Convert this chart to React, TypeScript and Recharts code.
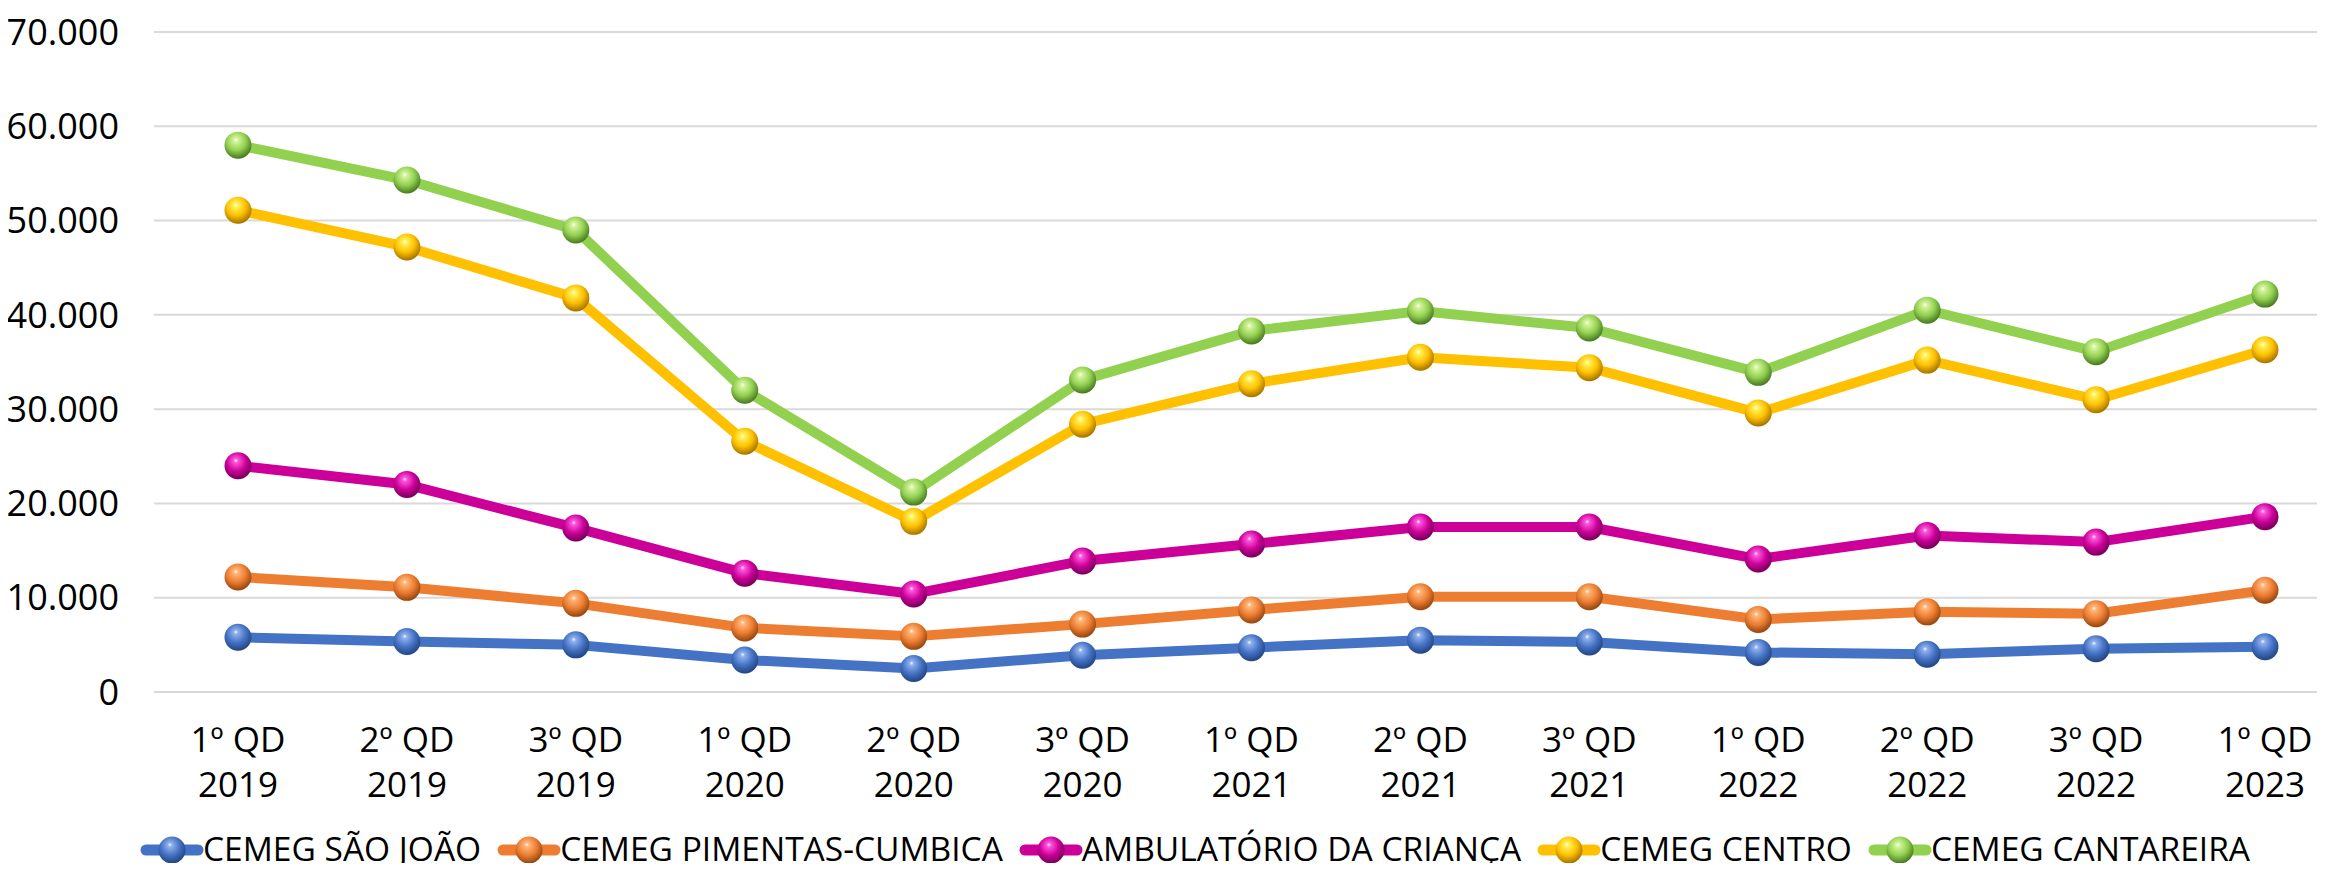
import { CartesianGrid, Line, LineChart, XAxis, YAxis } from "recharts";

const categories = [
  "1º QD 2019",
  "2º QD 2019",
  "3º QD 2019",
  "1º QD 2020",
  "2º QD 2020",
  "3º QD 2020",
  "1º QD 2021",
  "2º QD 2021",
  "3º QD 2021",
  "1º QD 2022",
  "2º QD 2022",
  "3º QD 2022",
  "1º QD 2023",
];

const saoJoao = [5800, 5350, 5000, 3400, 2500, 3900, 4700, 5500, 5300, 4200, 4000, 4600, 4800];
const pimentas = [12200, 11100, 9400, 6800, 5900, 7200, 8700, 10100, 10100, 7700, 8500, 8300, 10800];
const ambulatorio = [24000, 22000, 17400, 12600, 10400, 13900, 15700, 17500, 17500, 14100, 16600, 15900, 18600];
const centro = [51100, 47200, 41800, 26600, 18100, 28400, 32700, 35500, 34400, 29600, 35200, 31000, 36300];
const cantareira = [58000, 54300, 49000, 32000, 21200, 33100, 38300, 40400, 38600, 33900, 40500, 36100, 42200];

const yTicks = [0, 10000, 20000, 30000, 40000, 50000, 60000, 70000];

const series = [
  { key: "saoJoao", name: "CEMEG SÃO JOÃO", values: saoJoao, color: "#4472C4", light: "#8fb0ec", dark: "#1f3f7a" },
  { key: "pimentas", name: "CEMEG PIMENTAS-CUMBICA", values: pimentas, color: "#ED7D31", light: "#ffb77a", dark: "#8a3f0c" },
  { key: "ambulatorio", name: "AMBULATÓRIO DA CRIANÇA", values: ambulatorio, color: "#CC0099", light: "#ff55dd", dark: "#6a0050" },
  { key: "centro", name: "CEMEG CENTRO", values: centro, color: "#FFC000", light: "#fff35a", dark: "#9a6a00" },
  { key: "cantareira", name: "CEMEG CANTAREIRA", values: cantareira, color: "#92D050", light: "#d4f59c", dark: "#3f6e1c" },
];

const data = categories.map((c, i) => {
  const row: Record<string, string | number> = { cat: c };
  for (const s of series) row[s.key] = s.values[i];
  return row;
});

const FONT = "'Open Sans', sans-serif";

function formatThousands(v: number): string {
  return String(v).replace(/\B(?=(\d{3})+(?!\d))/g, ".");
}

function CatTick({ x, y, payload }: any) {
  const label: string = payload.value;
  const cut = label.lastIndexOf(" ");
  return (
    <text x={x} textAnchor="middle" fill="#000" fontSize={35} fontFamily={FONT}>
      <tspan x={x} y={y + 60}>{label.slice(0, cut)}</tspan>
      <tspan x={x} y={y + 105}>{label.slice(cut + 1)}</tspan>
    </text>
  );
}

function Sphere({ cx, cy, id, r = 13.5 }: { cx: number; cy: number; id: string; r?: number }) {
  return (
    <g>
      <circle cx={cx} cy={cy + 1.5} r={r} fill={`url(#shade-${id})`} opacity={0.5} />
      <circle cx={cx} cy={cy} r={r} fill={`url(#ball-${id})`} />
    </g>
  );
}

function Gradients() {
  return (
    <defs>
      {series.map((s) => (
        <radialGradient key={s.key} id={`ball-${s.key}`} cx="45%" cy="38%" r="65%" fx="42%" fy="30%">
          <stop offset="0%" stopColor="#ffffff" stopOpacity={0.9} />
          <stop offset="12%" stopColor={s.light} />
          <stop offset="55%" stopColor={s.color} />
          <stop offset="100%" stopColor={s.dark} />
        </radialGradient>
      ))}
      {series.map((s) => (
        <radialGradient key={s.key + "-sh"} id={`shade-${s.key}`} cx="50%" cy="50%" r="50%">
          <stop offset="70%" stopColor={s.light} />
          <stop offset="100%" stopColor={s.light} stopOpacity={0} />
        </radialGradient>
      ))}
    </defs>
  );
}

function LegendRow() {
  return (
    <div
      style={{
        position: "absolute",
        top: 830,
        left: 141,
        display: "flex",
        alignItems: "center",
        whiteSpace: "nowrap",
        fontFamily: FONT,
        fontSize: 33.5,
        lineHeight: "36px",
        color: "#000",
      }}
    >
      {series.map((s, i) => (
        <div key={s.key} style={{ display: "flex", alignItems: "center", marginLeft: i === 0 ? 0 : 17 }}>
          <svg width={62} height={36} style={{ overflow: "visible" }}>
            <line x1={5} x2={57} y1={20} y2={20} stroke={s.color} strokeWidth={11} strokeLinecap="round" />
            <Sphere cx={31} cy={20} id={s.key} />
          </svg>
          <span>{s.name}</span>
        </div>
      ))}
    </div>
  );
}

export default function App() {
  return (
    <div style={{ position: "relative", margin: -8, width: 2325, height: 871, overflow: "hidden", background: "#fff" }}>
      <svg width={0} height={0} style={{ position: "absolute" }}>
        <Gradients />
      </svg>
      <LineChart width={2349} height={871} data={data} margin={{ top: 32, right: 0, bottom: 0, left: 0 }}>
        <CartesianGrid stroke="#d9d9d9" strokeWidth={2} vertical={false} />
        <XAxis
          dataKey="cat"
          height={179}
          axisLine={false}
          tickLine={false}
          tickSize={0}
          tickMargin={0}
          interval={0}
          padding={{ left: 84, right: 84 }}
          tick={<CatTick />}
        />
        <YAxis
          width={154}
          domain={[0, 70000]}
          ticks={yTicks}
          axisLine={false}
          tickLine={false}
          tickSize={0}
          tickMargin={35}
          tickFormatter={formatThousands}
          tick={{ fill: "#000", fontSize: 36, fontFamily: FONT }}
        />
        {series.map((s) => (
          <Line
            key={s.key}
            dataKey={s.key}
            name={s.name}
            type="linear"
            stroke={s.color}
            strokeWidth={10}
            strokeLinejoin="round"
            dot={(p: any) => <Sphere key={`${s.key}-${p.index}`} cx={p.cx} cy={p.cy} id={s.key} />}
            activeDot={false}
            isAnimationActive={false}
          />
        ))}
      </LineChart>
      <LegendRow />
    </div>
  );
}
